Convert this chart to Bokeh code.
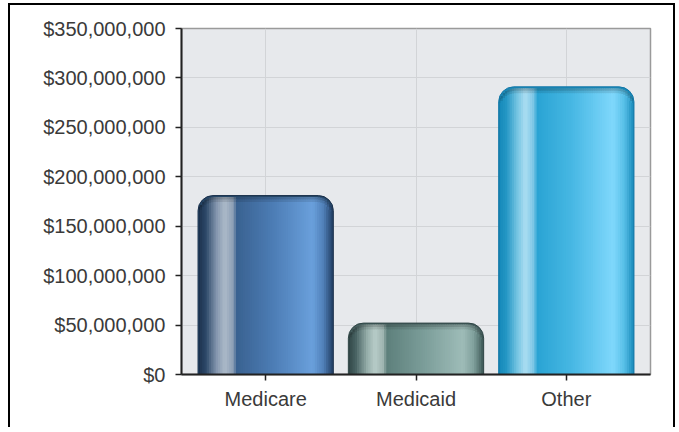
import numpy as np
from bokeh.plotting import figure
from bokeh.models import Range1d, FixedTicker, NumeralTickFormatter
from bokeh.embed import file_html
from bokeh.resources import INLINE

# ---- data ----
categories = ["Medicare", "Medicaid", "Other"]
payments = [181_000_000, 52_000_000, 291_000_000]
y_ticks = [0, 50_000_000, 100_000_000, 150_000_000, 200_000_000,
           250_000_000, 300_000_000, 350_000_000]

# ---- style ----
stops = [0.00, 0.06, 0.14, 0.20, 0.26, 0.29, 0.55, 0.85, 0.93, 1.00]
gradients = [
    ["#1a2f4a", "#2c4868", "#8496ae", "#acbac9", "#8ea0b6", "#3a6291", "#4c7cb4", "#6aa0dc", "#5080b8", "#223e64"],
    ["#2e4444", "#4a6464", "#94aca8", "#b8ccc8", "#9eb4b0", "#5e807c", "#7a9c98", "#9ebcb8", "#80a09c", "#3e5a58"],
    ["#1488b8", "#2496c4", "#74c4e2", "#acdef2", "#7cc6e6", "#2aa4d4", "#48b8e4", "#80d8fc", "#58c0e8", "#1a8cbc"],
]
base_colors = ["#264869", "#486060", "#1a88b6"]
edge_colors = ["#1a2f4a", "#2e4444", "#1478a8"]

FRAME_W, FRAME_H = 469, 346
X0, X1 = 0.44, 3.56
Y0, Y1 = 0, 350_000_000
BAR_W = 0.9
RADIUS = 15
px_x = (X1 - X0) / FRAME_W
px_y = (Y1 - Y0) / FRAME_H


def hex2rgb(h):
    return np.array([int(h[i:i + 2], 16) for i in (1, 3, 5)], dtype=float)


def grad_color(cols, u, k):
    rgb = np.array([hex2rgb(c) for c in cols])
    out = [np.interp(u, stops, rgb[:, j]) * k for j in range(3)]
    return "#%02x%02x%02x" % tuple(int(max(0, min(255, round(v)))) for v in out)


text_font = "Liberation Sans"
text_color = "#3a3a3a"

p = figure(frame_width=FRAME_W, frame_height=FRAME_H,
           min_border_left=171, min_border_right=23,
           min_border_top=23, min_border_bottom=53,
           x_range=Range1d(X0, X1), y_range=Range1d(Y0, Y1),
           output_backend="svg", toolbar_location=None)
p.styles = {"margin-left": "8px", "margin-top": "3px",
            "border-top": "2px solid #000", "border-left": "2px solid #000",
            "border-right": "2px solid #000"}
p.background_fill_color = "#e7e9ec"
p.border_fill_color = "#ffffff"
p.outline_line_color = "#9a9a9a"
p.outline_line_width = 1.5

positions = list(range(1, len(categories) + 1))

# base rounded bars
p.vbar(x=positions, top=payments, bottom=0, width=BAR_W,
       fill_color=base_colors, line_color=edge_colors, line_width=1,
       border_radius=(RADIUS, RADIUS, 0, 0))

# gradient strips inside each bar
N = 60
bw_px = BAR_W / px_x
layers = [(1.5, 0.78), (4.0, 0.9), (6.5, 1.0)]
for inset, k in layers:
    L, R, T, C = [], [], [], []
    for bi, (pos, val) in enumerate(zip(positions, payments)):
        for i in range(N):
            u0 = i / N
            u1 = (i + 1) / N
            a_px = max(u0 * bw_px - 0.4, 1.0)
            b_px = min(u1 * bw_px + 0.4, bw_px - 1.0)
            d = min(a_px, bw_px - b_px)
            off = 0.0
            if d < RADIUS:
                off = RADIUS - np.sqrt(RADIUS ** 2 - (RADIUS - d) ** 2)
            L.append(pos - BAR_W / 2 + a_px * px_x)
            R.append(pos - BAR_W / 2 + b_px * px_x)
            T.append(val - (off + inset) * px_y)
            C.append(grad_color(gradients[bi], (i + 0.5) / N, k))
    p.quad(left=L, right=R, bottom=0, top=T, fill_color=C, line_color=None)

# axes
p.yaxis.ticker = FixedTicker(ticks=y_ticks)
p.yaxis.formatter = NumeralTickFormatter(format="$0,0")
p.xaxis.ticker = FixedTicker(ticks=positions)
p.xaxis.major_label_overrides = {pos: c for pos, c in zip(positions, categories)}
for ax in (p.xaxis[0], p.yaxis[0]):
    ax.major_label_text_font = text_font
    ax.major_label_text_font_size = "20px"
    ax.major_label_text_color = text_color
    ax.axis_line_color = "#222222"
    ax.axis_line_width = 2
    ax.major_tick_line_color = "#222222"
    ax.major_tick_line_width = 1.5
    ax.major_tick_in = 0
    ax.major_tick_out = 6
    ax.minor_tick_line_color = None
p.yaxis.major_label_standoff = 10
p.xaxis.major_label_standoff = 7

p.xgrid.ticker = FixedTicker(ticks=positions)
p.ygrid.ticker = FixedTicker(ticks=y_ticks)
p.grid.grid_line_color = "#d2d4d7"
p.grid.grid_line_width = 1

open("out.html", "w").write(file_html(p, INLINE))
